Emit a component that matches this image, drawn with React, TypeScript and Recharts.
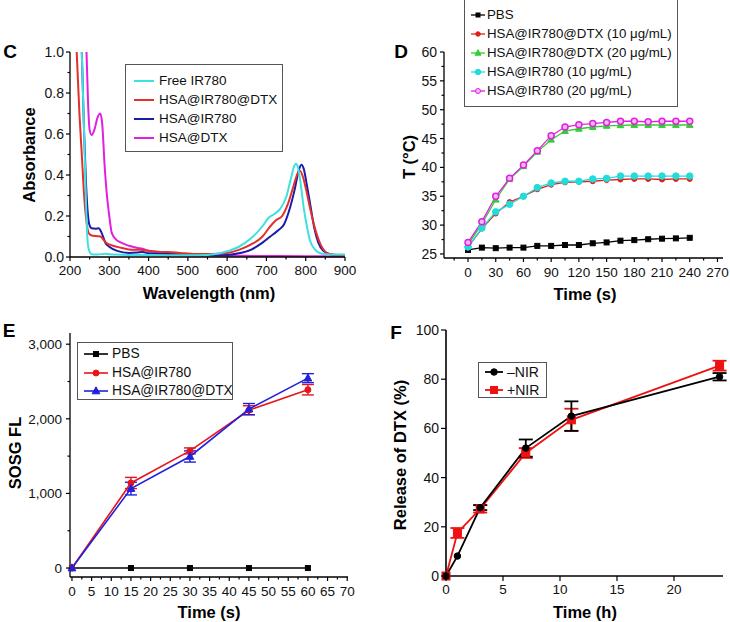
import React from 'react';
import { LineChart, Line, XAxis, YAxis, ErrorBar } from 'recharts';

const FONT = '"Liberation Sans", Arial, Helvetica, sans-serif';

// ---- Panel C: absorbance spectra, [wavelength nm, absorbance]
const freeIR780: number[][] = [
  [230, 1.0], [236, 0.6], [241, 0.25], [244, 0.1], [248, 0.035], [255, 0.013], [270, 0.012], [290, 0.016],
  [310, 0.012], [350, 0.01], [400, 0.01], [450, 0.008], [500, 0.008], [550, 0.01], [600, 0.028], [630, 0.05],
  [660, 0.09], [690, 0.15], [705, 0.19], [720, 0.21], [735, 0.235], [750, 0.29], [762, 0.38], [770, 0.44],
  [775, 0.455], [780, 0.44], [787, 0.36], [795, 0.24], [803, 0.15], [811, 0.08], [820, 0.045], [830, 0.025],
  [845, 0.015], [870, 0.012], [900, 0.012],
];
const hsaIR780DTX: number[][] = [
  [217, 1.0], [224, 0.7], [230, 0.5], [236, 0.3], [242, 0.17], [248, 0.115], [255, 0.105], [265, 0.102],
  [278, 0.1], [285, 0.085], [292, 0.07], [305, 0.058], [330, 0.045], [360, 0.035], [380, 0.035], [400, 0.03],
  [430, 0.025], [450, 0.025], [480, 0.02], [520, 0.015], [560, 0.015], [600, 0.02], [630, 0.035], [660, 0.06],
  [690, 0.1], [710, 0.15], [725, 0.18], [740, 0.2], [755, 0.26], [768, 0.34], [780, 0.41], [786, 0.42],
  [793, 0.39], [802, 0.32], [812, 0.23], [825, 0.13], [838, 0.06], [850, 0.025], [865, 0.012], [880, 0.01],
  [900, 0.01],
];
const hsaIR780: number[][] = [
  [230, 1.0], [236, 0.6], [241, 0.35], [245, 0.22], [249, 0.16], [255, 0.14], [265, 0.138], [273, 0.14],
  [280, 0.12], [290, 0.07], [300, 0.05], [320, 0.03], [350, 0.02], [370, 0.022], [385, 0.025], [400, 0.018],
  [450, 0.015], [500, 0.01], [550, 0.008], [600, 0.01], [630, 0.018], [660, 0.035], [690, 0.07], [710, 0.1],
  [730, 0.13], [745, 0.16], [760, 0.24], [772, 0.33], [782, 0.42], [789, 0.45], [795, 0.43], [803, 0.35],
  [812, 0.25], [822, 0.14], [832, 0.07], [845, 0.03], [860, 0.015], [880, 0.01], [900, 0.01],
];
const hsaDTX: number[][] = [
  [242, 1.0], [246, 0.75], [250, 0.62], [255, 0.595], [262, 0.62], [270, 0.68], [277, 0.7], [282, 0.65],
  [288, 0.45], [294, 0.3], [300, 0.2], [306, 0.12], [315, 0.09], [330, 0.07], [350, 0.055], [370, 0.045],
  [385, 0.04], [400, 0.03], [430, 0.022], [460, 0.017], [500, 0.012], [550, 0.008], [600, 0.006], [700, 0.005],
  [800, 0.004], [900, 0.004],
];
const cXMajor = [200, 300, 400, 500, 600, 700, 800, 900];
const cXMinor = [250, 350, 450, 550, 650, 750, 850];
const cYMajor = [0, 0.2, 0.4, 0.6, 0.8, 1.0];
const cYMinor = [0.1, 0.3, 0.5, 0.7, 0.9];

// ---- Panel D: temperature vs time
const dTimes = [0, 15, 30, 45, 60, 75, 90, 105, 120, 135, 150, 165, 180, 195, 210, 225, 240];
const dPBS = [25.7, 26.1, 26.0, 26.1, 26.1, 26.4, 26.4, 26.55, 26.55, 26.85, 27.0, 27.3, 27.4, 27.55, 27.65, 27.7, 27.8];
const dDTX10 = [26.2, 29.4, 32.0, 34.0, 35.0, 36.2, 37.0, 37.4, 37.5, 37.6, 37.8, 37.9, 38.0, 38.0, 37.9, 38.0, 38.0];
const dDTX20 = [26.6, 30.2, 34.4, 38.0, 40.2, 42.7, 44.8, 46.3, 46.7, 47.0, 47.2, 47.3, 47.35, 47.35, 47.35, 47.35, 47.35];
const dIR10 = [26.2, 29.5, 32.3, 33.6, 35.0, 36.5, 37.3, 37.6, 37.6, 38.0, 38.1, 38.5, 38.5, 38.5, 38.5, 38.5, 38.5];
const dIR20 = [27.0, 30.6, 35.0, 38.1, 40.4, 42.9, 45.5, 47.0, 47.4, 47.6, 47.8, 48.0, 48.0, 47.9, 48.0, 48.0, 48.0];
const dXMajor = [0, 30, 60, 90, 120, 150, 180, 210, 240, 270];
const dXMinor = [-15, 15, 45, 75, 105, 135, 165, 195, 225, 255];
const dYMajor = [25, 30, 35, 40, 45, 50, 55, 60];
const dYMinor = [27.5, 32.5, 37.5, 42.5, 47.5, 52.5, 57.5];

// ---- Panel E: SOSG fluorescence (null = no error bar)
const eTimes = [0, 15, 30, 45, 60];
const ePBS = [0, 0, 0, 0, 0];
const eIR780 = [0, 1140, 1570, 2115, 2390];
const eIR780Err = [null, 75, 40, 60, 70];
const eIR780DTX = [0, 1065, 1495, 2130, 2545];
const eIR780DTXErr = [null, 85, 75, 75, 60];
const eXMajor = [0, 5, 10, 15, 20, 25, 30, 35, 40, 45, 50, 55, 60, 65, 70];
const eXMinor = [2.5, 7.5, 12.5, 17.5, 22.5, 27.5, 32.5, 37.5, 42.5, 47.5, 52.5, 57.5, 62.5, 67.5];
const eYMajor = [0, 1000, 2000, 3000];
const eYMinor = [500, 1500, 2500];

// ---- Panel F: DTX release
const fTimes = [0, 1, 3, 7, 11, 24];
const fMinus = [0, 8.1, 27.8, 52, 65, 81];
const fMinusErr = [null, null, 1, 3.5, 6, 1.5];
const fPlus = [0, 17.5, 27.3, 50, 63.5, 85.5];
const fPlusErr = [null, 2, 1.5, 2, 4.5, 2];
const fXMajor = [0, 5, 10, 15, 20];
const fYMajor = [0, 20, 40, 60, 80, 100];

const pairs = (p: number[][]) => p.map(([x, y]) => ({ x, y }));
const pts = (xs: number[], ys: number[], es?: (number | null)[]) =>
  xs.map((x, i) => ({ x, y: ys[i], err: es && es[i] != null ? es[i] : undefined }));

type Shape = 'square' | 'circle' | 'triangle';

const Marker = ({ shape, cx, cy, size, fill, stroke, sw = 1 }: any) => {
  if (cx == null || cy == null) return null;
  if (shape === 'square')
    return <rect x={cx - size / 2} y={cy - size / 2} width={size} height={size} fill={fill} stroke={stroke} strokeWidth={sw} />;
  if (shape === 'triangle') {
    const h = size;
    return (
      <polygon
        points={`${cx},${cy - h * 0.6} ${cx - h * 0.55},${cy + h * 0.4} ${cx + h * 0.55},${cy + h * 0.4}`}
        fill={fill}
        stroke={stroke}
        strokeWidth={sw}
      />
    );
  }
  return <circle cx={cx} cy={cy} r={size / 2} fill={fill} stroke={stroke} strokeWidth={sw} />;
};

const dotFn = (shape: Shape, size: number, fill: string, stroke: string, sw = 1) => (p: any) => (
  <Marker key={`d-${p.index}`} shape={shape} cx={p.cx} cy={p.cy} size={size} fill={fill} stroke={stroke} sw={sw} />
);

const makeTick = (
  orient: 'x' | 'y',
  majors: number[],
  fmt: (v: number) => string,
  opts: { major?: number; minor?: number; gap?: number; fs?: number } = {}
) => (props: any) => {
  const { x, y, payload } = props;
  const v = payload.value;
  const { major = 5, minor = 3, gap = 3, fs = 13.5 } = opts;
  const isMajor = majors.some((m) => Math.abs(m - v) < 1e-6);
  const len = isMajor ? major : minor;
  if (orient === 'x') {
    return (
      <g>
        <line x1={x} y1={y} x2={x} y2={y + len} stroke="#000" strokeWidth={1.2} />
        {isMajor && (
          <text x={x} y={y + major + gap + fs * 0.72} textAnchor="middle" fontSize={fs} fontFamily={FONT} fill="#111">
            {fmt(v)}
          </text>
        )}
      </g>
    );
  }
  return (
    <g>
      <line x1={x} y1={y} x2={x - len} y2={y} stroke="#000" strokeWidth={1.2} />
      {isMajor && (
        <text x={x - major - gap} y={y + fs * 0.36} textAnchor="end" fontSize={fs} fontFamily={FONT} fill="#111">
          {fmt(v)}
        </text>
      )}
    </g>
  );
};

const axisLine = { stroke: '#000', strokeWidth: 1.3 };

type LegendItem = { name: string; color: string; lw: number; shape?: Shape; size?: number; fill?: string };

const LegendBox = ({ left, top, width, height, rows, s0, s1, tx, items, fs }: any) => (
  <div
    style={{
      position: 'absolute', left, top, width, height, border: '1px solid #555', boxSizing: 'border-box',
      background: '#fff', fontFamily: FONT, fontSize: fs, color: '#111',
    }}
  >
    <svg style={{ position: 'absolute', left: 0, top: 0, overflow: 'visible' }} width={width} height={height}>
      {items.map((it: LegendItem, i: number) => (
        <g key={it.name}>
          <line x1={s0} x2={s1} y1={rows[i]} y2={rows[i]} stroke={it.color} strokeWidth={it.lw} />
          {it.shape && (
            <Marker shape={it.shape} cx={(s0 + s1) / 2} cy={rows[i]} size={it.size} fill={it.fill || it.color} stroke={it.color} />
          )}
        </g>
      ))}
    </svg>
    {items.map((it: LegendItem, i: number) => (
      <span
        key={it.name}
        style={{ position: 'absolute', left: tx, top: rows[i], transform: 'translateY(-50%)', lineHeight: 1, whiteSpace: 'nowrap' }}
      >
        {it.name}
      </span>
    ))}
  </div>
);

const Title = ({ x, y, text, rotate = false, fs = 16.5 }: any) => (
  <div
    style={{
      position: 'absolute', left: x, top: y, transform: `translate(-50%, -50%)${rotate ? ' rotate(-90deg)' : ''}`,
      fontFamily: FONT, fontWeight: 'bold', fontSize: fs, whiteSpace: 'nowrap', color: '#000', lineHeight: 1,
    }}
  >
    {text}
  </div>
);

const C = { cyan: '#3ee0e0', red: '#e2302b', blue: '#1c1caa', magenta: '#e020e0' };
const D = { black: '#000', red: '#e0201c', green: '#33cc33', cyan: '#22dcdc', magenta: '#e020e0' };

export default function App() {
  return (
    <div style={{ position: 'absolute', left: 0, top: 0, width: 730, height: 622, background: '#fff', overflow: 'hidden' }}>
      {/* Panel C */}
      <div style={{ position: 'absolute', left: 0, top: 0 }}>
        <LineChart width={365} height={310} margin={{ top: 52, right: 20, bottom: 23, left: 30 }}>
          <XAxis
            type="number" dataKey="x" domain={[200, 900]} ticks={[...cXMajor, ...cXMinor]} interval={0}
            tick={makeTick('x', cXMajor, (v) => String(v), { major: 4, minor: 2.5, gap: 4 })}
            tickLine={false} tickSize={0} tickMargin={0} height={30} axisLine={axisLine}
          />
          <YAxis
            type="number" domain={[0, 1]} ticks={[...cYMajor, ...cYMinor]} interval={0} width={40}
            tick={makeTick('y', cYMajor, (v) => v.toFixed(1), { major: 4, minor: 2.5, gap: 2, fs: 14 })}
            tickLine={false} tickSize={0} tickMargin={0} axisLine={axisLine}
          />
          <Line data={pairs(hsaDTX)} dataKey="y" type="monotone" stroke={C.magenta} strokeWidth={2} dot={false} isAnimationActive={false} />
          <Line data={pairs(hsaIR780)} dataKey="y" type="monotone" stroke={C.blue} strokeWidth={2} dot={false} isAnimationActive={false} />
          <Line data={pairs(hsaIR780DTX)} dataKey="y" type="monotone" stroke={C.red} strokeWidth={2} dot={false} isAnimationActive={false} />
          <Line data={pairs(freeIR780)} dataKey="y" type="monotone" stroke={C.cyan} strokeWidth={2} dot={false} isAnimationActive={false} />
        </LineChart>
      </div>
      <LegendBox
        left={125} top={64} width={158} height={88} rows={[16, 35, 54, 73]} s0={8} s1={28} tx={33} fs={13.5}
        items={[
          { name: 'Free IR780', color: C.cyan, lw: 2 },
          { name: 'HSA@IR780@DTX', color: C.red, lw: 2 },
          { name: 'HSA@IR780', color: C.blue, lw: 2 },
          { name: 'HSA@DTX', color: C.magenta, lw: 2 },
        ]}
      />
      <Title x={10} y={51} text="C" fs={19} />
      <Title x={29} y={155} text="Absorbance" rotate />
      <Title x={209} y={293} text="Wavelength (nm)" />

      {/* Panel D */}
      <div style={{ position: 'absolute', left: 365, top: 0 }}>
        <LineChart width={365} height={310} margin={{ top: 52, right: 7, bottom: 22, left: 39 }}>
          <XAxis
            type="number" dataKey="x" domain={[-26, 276]} ticks={[...dXMajor, ...dXMinor]} interval={0}
            tick={makeTick('x', dXMajor, (v) => String(v), { major: 4, minor: 2.5, gap: 5 })}
            tickLine={false} tickSize={0} tickMargin={0} height={30} axisLine={axisLine}
          />
          <YAxis
            type="number" domain={[24.3, 60]} ticks={[...dYMajor, ...dYMinor]} interval={0} width={40}
            tick={makeTick('y', dYMajor, (v) => String(v), { major: 4, minor: 2.5, gap: 3, fs: 14 })}
            tickLine={false} tickSize={0} tickMargin={0} axisLine={axisLine}
          />
          <Line data={pts(dTimes, dPBS)} dataKey="y" stroke={D.black} strokeWidth={1.3} dot={dotFn('square', 5, D.black, D.black)} isAnimationActive={false} />
          <Line data={pts(dTimes, dDTX10)} dataKey="y" stroke={D.red} strokeWidth={1.3} dot={dotFn('circle', 5, D.red, D.red)} isAnimationActive={false} />
          <Line data={pts(dTimes, dDTX20)} dataKey="y" stroke={D.green} strokeWidth={1.3} dot={dotFn('triangle', 6, D.green, D.green)} isAnimationActive={false} />
          <Line data={pts(dTimes, dIR10)} dataKey="y" stroke={D.cyan} strokeWidth={1.3} dot={dotFn('circle', 6.5, D.cyan, D.cyan)} isAnimationActive={false} />
          <Line data={pts(dTimes, dIR20)} dataKey="y" stroke={D.magenta} strokeWidth={1.3} dot={dotFn('circle', 6, '#f6b8f6', D.magenta, 1.5)} isAnimationActive={false} />
        </LineChart>
      </div>
      <LegendBox
        left={464} top={-1} width={214} height={108} rows={[15, 34, 53, 72, 91]} s0={6} s1={20} tx={22} fs={13.3}
        items={[
          { name: 'PBS', color: D.black, lw: 1.3, shape: 'square', size: 4 },
          { name: 'HSA@IR780@DTX (10 μg/mL)', color: D.red, lw: 1.3, shape: 'circle', size: 4.5 },
          { name: 'HSA@IR780@DTX (20 μg/mL)', color: D.green, lw: 1.3, shape: 'triangle', size: 5.5 },
          { name: 'HSA@IR780 (10 μg/mL)', color: D.cyan, lw: 1.3, shape: 'circle', size: 5.5 },
          { name: 'HSA@IR780 (20 μg/mL)', color: D.magenta, lw: 1.3, shape: 'circle', size: 5, fill: '#f6b8f6' },
        ]}
      />
      <Title x={401} y={51} text="D" fs={19} />
      <Title x={409} y={157} text="T (°C)" rotate />
      <Title x={585} y={294} text="Time (s)" />

      {/* Panel E */}
      <div style={{ position: 'absolute', left: 0, top: 310 }}>
        <LineChart width={365} height={312} margin={{ top: 23, right: 17, bottom: 15, left: 30 }}>
          <XAxis
            type="number" dataKey="x" domain={[-0.5, 70.2]} ticks={[...eXMajor, ...eXMinor]} interval={0}
            tick={makeTick('x', eXMajor, (v) => String(v), { major: 4, minor: 2.5, gap: 5 })}
            tickLine={false} tickSize={0} tickMargin={0} height={30} axisLine={axisLine}
          />
          <YAxis
            type="number" domain={[-120, 3150]} ticks={[...eYMajor, ...eYMinor]} interval={0} width={40}
            tick={makeTick('y', eYMajor, (v) => v.toLocaleString('en-US'), { major: 4, minor: 2.5, gap: 4, fs: 13.5 })}
            tickLine={false} tickSize={0} tickMargin={0} axisLine={axisLine}
          />
          <Line data={pts(eTimes, ePBS)} dataKey="y" stroke="#000" strokeWidth={1.6} dot={dotFn('square', 5, '#000', '#000')} isAnimationActive={false} />
          <Line data={pts(eTimes, eIR780, eIR780Err)} dataKey="y" stroke="#e8141c" strokeWidth={1.6} dot={dotFn('circle', 6, '#e8141c', '#e8141c')} isAnimationActive={false}>
            <ErrorBar dataKey="err" direction="y" width={6} stroke="#e8141c" strokeWidth={1.4} />
          </Line>
          <Line data={pts(eTimes, eIR780DTX, eIR780DTXErr)} dataKey="y" stroke="#2020dd" strokeWidth={1.6} dot={dotFn('triangle', 7, '#2020dd', '#2020dd')} isAnimationActive={false}>
            <ErrorBar dataKey="err" direction="y" width={6} stroke="#2020dd" strokeWidth={1.4} />
          </Line>
        </LineChart>
      </div>
      <LegendBox
        left={77} top={342} width={156} height={58} rows={[11, 30, 48]} s0={6} s1={30} tx={34} fs={13.8}
        items={[
          { name: 'PBS', color: '#000', lw: 1.6, shape: 'square', size: 5 },
          { name: 'HSA@IR780', color: '#e8141c', lw: 1.6, shape: 'circle', size: 6 },
          { name: 'HSA@IR780@DTX', color: '#2020dd', lw: 1.6, shape: 'triangle', size: 7 },
        ]}
      />
      <Title x={9} y={330} text="E" fs={19} />
      <Title x={15} y={453} text="SOSG FL" rotate />
      <Title x={209} y={612} text="Time (s)" />

      {/* Panel F */}
      <div style={{ position: 'absolute', left: 365, top: 310 }}>
        <LineChart width={365} height={312} margin={{ top: 20, right: 7, bottom: 16, left: 41 }}>
          <XAxis
            type="number" dataKey="x" domain={[0, 24.3]} ticks={fXMajor} interval={0}
            tick={makeTick('x', fXMajor, (v) => String(v), { major: 5, gap: 3 })}
            tickLine={false} tickSize={0} tickMargin={0} height={30} axisLine={{ stroke: '#000', strokeWidth: 1.6 }}
          />
          <YAxis
            type="number" domain={[0, 100]} ticks={fYMajor} interval={0} width={40}
            tick={makeTick('y', fYMajor, (v) => String(v), { major: 5, gap: 2, fs: 14 })}
            tickLine={false} tickSize={0} tickMargin={0} axisLine={{ stroke: '#000', strokeWidth: 1.6 }}
          />
          <Line data={pts(fTimes, fPlus, fPlusErr)} dataKey="y" stroke="#ee1111" strokeWidth={1.8} dot={dotFn('square', 8, '#ee1111', '#ee1111')} isAnimationActive={false}>
            <ErrorBar dataKey="err" direction="y" width={7} stroke="#ee1111" strokeWidth={1.8} />
          </Line>
          <Line data={pts(fTimes, fMinus, fMinusErr)} dataKey="y" stroke="#000" strokeWidth={1.8} dot={dotFn('circle', 6.5, '#000', '#000')} isAnimationActive={false}>
            <ErrorBar dataKey="err" direction="y" width={7} stroke="#000" strokeWidth={1.8} />
          </Line>
        </LineChart>
      </div>
      <LegendBox
        left={478} top={362} width={69} height={36} rows={[9, 27]} s0={6} s1={24} tx={28} fs={14}
        items={[
          { name: '–NIR', color: '#000', lw: 1.8, shape: 'circle', size: 6.5 },
          { name: '+NIR', color: '#ee1111', lw: 1.8, shape: 'square', size: 7 },
        ]}
      />
      <Title x={396} y={332} text="F" fs={19} />
      <Title x={400} y={455} text="Release of DTX (%)" rotate />
      <Title x={585} y={612} text="Time (h)" />
    </div>
  );
}
